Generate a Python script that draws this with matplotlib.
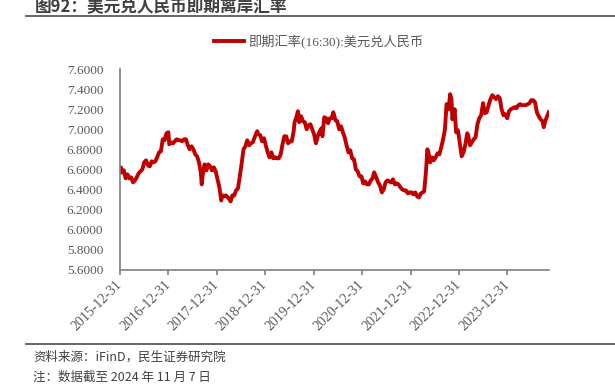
import numpy as np
import pandas as pd
import matplotlib
matplotlib.use("Agg")
import matplotlib.pyplot as plt
import matplotlib.dates as mdates
from matplotlib.lines import Line2D

# USD/CNH spot (16:30)
dates = [
    "2015-12-31", "2016-01-07", "2016-01-15", "2016-01-29", "2016-02-12", "2016-02-26",
    "2016-03-10", "2016-03-24", "2016-04-08", "2016-04-22", "2016-05-06", "2016-05-20",
    "2016-06-03", "2016-06-17", "2016-07-01", "2016-07-15", "2016-07-29", "2016-08-12",
    "2016-08-26", "2016-09-09", "2016-09-23", "2016-10-07", "2016-10-21", "2016-11-04",
    "2016-11-18", "2016-12-02", "2016-12-16", "2016-12-30",
    "2017-01-06", "2017-01-20", "2017-02-03", "2017-02-17", "2017-03-03", "2017-03-17",
    "2017-03-31", "2017-04-14", "2017-04-28", "2017-05-12", "2017-05-26", "2017-06-09",
    "2017-06-23", "2017-07-07", "2017-07-21", "2017-08-04", "2017-08-18", "2017-09-01",
    "2017-09-08", "2017-09-15", "2017-09-29", "2017-10-13", "2017-10-27", "2017-11-10",
    "2017-11-24", "2017-12-08", "2017-12-22",
    "2018-01-05", "2018-01-19", "2018-02-02", "2018-02-09", "2018-02-23", "2018-03-09",
    "2018-03-23", "2018-04-06", "2018-04-13", "2018-04-27", "2018-05-11", "2018-05-25",
    "2018-06-08", "2018-06-22", "2018-07-06", "2018-07-20", "2018-08-03", "2018-08-17",
    "2018-08-31", "2018-09-14", "2018-09-28", "2018-10-12", "2018-10-31", "2018-11-09",
    "2018-11-23", "2018-12-07", "2018-12-21",
    "2019-01-04", "2019-01-18", "2019-02-01", "2019-02-15", "2019-03-01", "2019-03-15",
    "2019-03-29", "2019-04-12", "2019-04-26", "2019-05-10", "2019-05-24", "2019-06-07",
    "2019-06-21", "2019-07-05", "2019-07-19", "2019-08-02", "2019-08-09", "2019-08-23",
    "2019-09-03", "2019-09-13", "2019-09-27", "2019-10-11", "2019-10-25", "2019-11-08",
    "2019-11-22", "2019-12-06", "2019-12-20",
    "2020-01-03", "2020-01-17", "2020-01-31", "2020-02-14", "2020-02-28", "2020-03-06",
    "2020-03-20", "2020-04-03", "2020-04-17", "2020-05-01", "2020-05-15", "2020-05-27",
    "2020-06-12", "2020-06-26", "2020-07-10", "2020-07-24", "2020-08-07", "2020-08-21",
    "2020-09-04", "2020-09-18", "2020-10-02", "2020-10-16", "2020-10-30", "2020-11-13",
    "2020-11-27", "2020-12-11", "2020-12-25",
    "2021-01-08", "2021-01-22", "2021-02-05", "2021-02-19", "2021-03-05", "2021-03-19",
    "2021-03-31", "2021-04-16", "2021-04-30", "2021-05-14", "2021-05-28", "2021-06-11",
    "2021-06-25", "2021-07-09", "2021-07-23", "2021-08-06", "2021-08-20", "2021-09-03",
    "2021-09-17", "2021-10-01", "2021-10-15", "2021-10-29", "2021-11-12", "2021-11-26",
    "2021-12-10", "2021-12-24",
    "2022-01-07", "2022-01-21", "2022-02-04", "2022-02-18", "2022-03-04", "2022-03-18",
    "2022-04-01", "2022-04-12", "2022-04-22", "2022-04-28", "2022-05-06", "2022-05-13",
    "2022-05-27", "2022-06-10", "2022-06-24", "2022-07-08", "2022-07-22", "2022-08-05",
    "2022-08-19", "2022-09-02", "2022-09-16", "2022-09-28", "2022-10-14", "2022-10-25",
    "2022-11-04", "2022-11-11", "2022-11-28", "2022-12-09", "2022-12-23",
    "2023-01-06", "2023-01-20", "2023-02-03", "2023-02-17", "2023-03-03", "2023-03-10",
    "2023-03-24", "2023-04-07", "2023-04-21", "2023-05-05", "2023-05-19", "2023-06-02",
    "2023-06-16", "2023-06-30", "2023-07-14", "2023-07-28", "2023-08-11", "2023-08-25",
    "2023-09-08", "2023-09-22", "2023-10-06", "2023-10-20", "2023-11-03", "2023-11-17",
    "2023-12-01", "2023-12-15", "2023-12-29",
    "2024-01-12", "2024-01-26", "2024-02-09", "2024-02-23", "2024-03-08", "2024-03-22",
    "2024-04-05", "2024-04-19", "2024-05-03", "2024-05-17", "2024-05-31", "2024-06-14",
    "2024-06-28", "2024-07-12", "2024-07-26", "2024-08-09", "2024-08-23", "2024-09-06",
    "2024-09-20", "2024-09-30", "2024-10-11", "2024-10-25", "2024-11-07",
]
usdcnh = [
    6.57, 6.62, 6.57, 6.59, 6.51, 6.55,
    6.51, 6.52, 6.47, 6.49, 6.52, 6.56,
    6.58, 6.60, 6.67, 6.69, 6.64, 6.63,
    6.68, 6.67, 6.68, 6.72, 6.77, 6.78,
    6.90, 6.89, 6.96, 6.97,
    6.85, 6.87, 6.86, 6.88, 6.90, 6.89,
    6.89, 6.88, 6.90, 6.90, 6.84, 6.80,
    6.83, 6.80, 6.75, 6.73, 6.67, 6.57,
    6.45, 6.54, 6.65, 6.59, 6.65, 6.63,
    6.59, 6.62, 6.58,
    6.50, 6.42, 6.29, 6.34, 6.33, 6.34,
    6.32, 6.30, 6.28, 6.34, 6.34, 6.39,
    6.41, 6.53, 6.66, 6.80, 6.83, 6.89,
    6.84, 6.86, 6.87, 6.92, 6.98, 6.95,
    6.94, 6.88, 6.91,
    6.84, 6.77, 6.72, 6.77, 6.71, 6.72,
    6.71, 6.71, 6.75, 6.85, 6.93, 6.93,
    6.86, 6.88, 6.88, 6.98, 7.07, 7.12,
    7.18, 7.07, 7.13, 7.08, 7.07, 7.00,
    7.04, 7.05, 7.00,
    6.95, 6.86, 6.93, 6.98, 7.01, 6.93,
    7.12, 7.11, 7.06, 7.11, 7.11, 7.17,
    7.09, 7.08, 7.00, 7.03, 6.97, 6.92,
    6.84, 6.77, 6.79, 6.71, 6.70, 6.60,
    6.58, 6.53, 6.53,
    6.46, 6.48, 6.45, 6.45, 6.49, 6.51,
    6.57, 6.52, 6.47, 6.44, 6.37, 6.40,
    6.47, 6.49, 6.48, 6.47, 6.50, 6.45,
    6.46, 6.45, 6.42, 6.40, 6.39, 6.39,
    6.36, 6.37,
    6.37, 6.35, 6.37, 6.33, 6.32, 6.36,
    6.37, 6.38, 6.52, 6.62, 6.80, 6.78,
    6.67, 6.72, 6.69, 6.72, 6.76, 6.75,
    6.82, 6.90, 7.00, 7.25, 7.20, 7.35,
    7.30, 7.10, 7.20, 6.97, 6.99,
    6.86, 6.73, 6.77, 6.85, 6.96, 6.94,
    6.84, 6.87, 6.90, 6.92, 7.05, 7.11,
    7.14, 7.26, 7.16, 7.17, 7.24, 7.30,
    7.34, 7.32, 7.30, 7.33, 7.31, 7.20,
    7.14, 7.15, 7.11,
    7.18, 7.20, 7.21, 7.22, 7.21, 7.24,
    7.25, 7.24, 7.24, 7.24, 7.25, 7.26,
    7.29, 7.29, 7.27, 7.17, 7.13, 7.10,
    7.08, 7.02, 7.08, 7.13, 7.17,
]
tick_dates = ["2015-12-31", "2016-12-31", "2017-12-31", "2018-12-31", "2019-12-31",
              "2020-12-31", "2021-12-31", "2022-12-31", "2023-12-31"]
y_ticks = [5.6, 5.8, 6.0, 6.2, 6.4, 6.6, 6.8, 7.0, 7.2, 7.4, 7.6]

title = "图92：美元兑人民币即期离岸汇率"
series_name = "即期汇率(16:30):美元兑人民币"
source = "资料来源：iFinD，民生证券研究院"
note = "注：数据截至 2024 年 11 月 7 日"

cjk = ["Noto Sans CJK SC", "DejaVu Sans"]
serif = ["Liberation Serif", "Noto Sans CJK SC"]

x = pd.to_datetime(dates)
fig = plt.figure(figsize=(6.15, 3.84), dpi=100)
ax = fig.add_axes([0.195, 0.298, 0.698, 0.522])

ax.plot(x, usdcnh, color="#C00000", lw=2.8, solid_joinstyle="round", label=series_name)

ax.set_ylim(5.6, 7.6)
ax.set_yticks(y_ticks)
ax.set_yticklabels(["%.4f" % v for v in y_ticks])
ax.set_xlim(pd.Timestamp("2015-12-31"), pd.Timestamp("2024-11-10"))
ax.set_xticks(pd.to_datetime(tick_dates))
ax.set_xticklabels(tick_dates, rotation=45, ha="right", va="center", rotation_mode="anchor")

for lab in ax.get_xticklabels() + ax.get_yticklabels():
    lab.set_family(serif)
    lab.set_color("#595959")
for lab in ax.get_xticklabels():
    lab.set_fontsize(10)
for lab in ax.get_yticklabels():
    lab.set_fontsize(9.5)

ax.tick_params(axis="y", length=0, pad=12)
ax.tick_params(axis="x", length=3.5, width=1.2, color="#7F7F7F", pad=6)
for s in ["top", "right"]:
    ax.spines[s].set_visible(False)
for s in ["left", "bottom"]:
    ax.spines[s].set_color("#7F7F7F")
    ax.spines[s].set_linewidth(1.2)

leg = ax.legend(loc="center", bbox_to_anchor=(0.518, 0.891), bbox_transform=fig.transFigure,
                frameon=False, handlelength=2.3, handletextpad=0.25,
                prop={"family": serif, "size": 9.5})
for t in leg.get_texts():
    t.set_color("#595959")

# header and footer
fig.text(0.057, 1 - 12.5 / 384, title, family=cjk, fontsize=12, fontweight="bold",
         color="#404040", va="baseline", ha="left")
fig.add_artist(Line2D([26 / 615, 1], [1 - 16 / 384] * 2, transform=fig.transFigure,
                      color="#595959", lw=1.3))
fig.add_artist(Line2D([26 / 615, 1], [1 - 344 / 384] * 2, transform=fig.transFigure,
                      color="#595959", lw=1.3))
fig.text(0.054, 1 - 357 / 384, source, family=cjk, fontsize=9, color="#404040", va="center")
fig.text(0.054, 1 - 377 / 384, note, family=cjk, fontsize=9, color="#404040", va="center")

fig.savefig("out.png", dpi=100)
